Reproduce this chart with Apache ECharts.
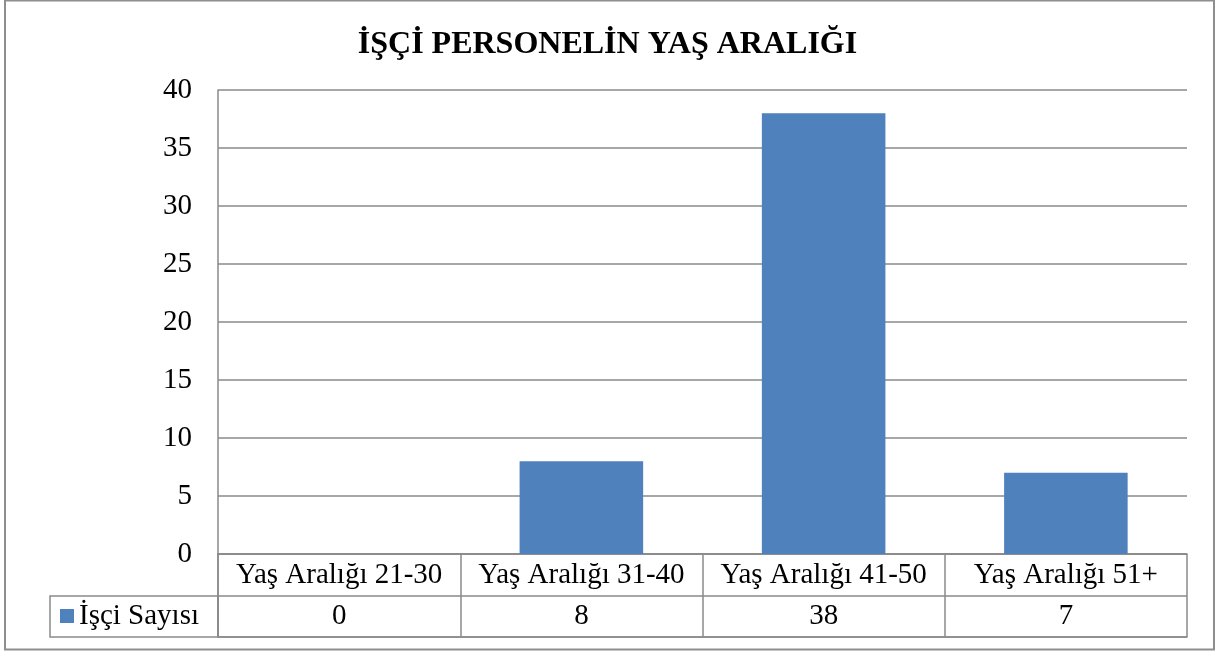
<!DOCTYPE html>
<html>
<head>
<meta charset="utf-8">
<script src="https://cdn.jsdelivr.net/npm/echarts@6/dist/echarts.min.js"></script>
<style>
html, body { margin: 0; padding: 0; background: #fff; }
#chart { width: 1215px; height: 653px; }
</style>
</head>
<body>
<div id="chart"></div>
<script>
"use strict";

var titleText = 'İŞÇİ PERSONELİN YAŞ ARALIĞI';
var seriesName = 'İşçi Sayısı';
var categories = ['Yaş Aralığı 21-30', 'Yaş Aralığı 31-40', 'Yaş Aralığı 41-50', 'Yaş Aralığı 51+'];
var values = [0, 8, 38, 7];

var lineColor = '#8a8a8a';
var serif = '"Liberation Serif", "Times New Roman", serif';

var chart = echarts.init(document.getElementById('chart'));
var option = {
	animation: false,
	title: {
		text: titleText,
		left: 'center',
		top: 24,
		textStyle: { fontFamily: serif, fontWeight: 'bold', fontSize: 32, color: '#000' }
	},
	legend: {
		data: [seriesName],
		left: 60,
		top: 601,
		padding: 0,
		icon: 'rect',
		itemWidth: 14,
		itemHeight: 14,
		itemGap: 8,
		textStyle: { fontFamily: serif, fontSize: 29, color: '#000', lineHeight: 30 }
	},
	grid: [
		{ left: 218, right: 28, top: 90, bottom: 99 },
		{ left: 218, right: 28, top: 554, bottom: 16 }
	],
	xAxis: [{
		type: 'category',
		gridIndex: 0,
		data: categories,
		axisLine: { lineStyle: { color: lineColor, width: 1.5 } },
		axisTick: { show: false },
		axisLabel: { fontFamily: serif, fontSize: 29, lineHeight: 30, color: '#000', margin: 6, interval: 0 }
	}, {
		type: 'category',
		gridIndex: 1,
		data: categories,
		axisLine: { lineStyle: { color: lineColor, width: 1.5 } },
		axisTick: { show: false },
		axisLabel: { show: false },
		splitLine: { show: true, lineStyle: { color: lineColor, width: 1.5 } }
	}],
	yAxis: [{
		type: 'value',
		gridIndex: 0,
		min: 0,
		max: 40,
		interval: 5,
		axisLine: { show: true, lineStyle: { color: lineColor, width: 1.5 } },
		axisTick: { show: false },
		axisLabel: { fontFamily: serif, fontSize: 29, color: '#000', margin: 26 },
		splitLine: { lineStyle: { color: lineColor, width: 1.5 } }
	}, {
		type: 'value',
		gridIndex: 1,
		min: 0,
		max: 2,
		interval: 1,
		axisLine: { show: true, lineStyle: { color: lineColor, width: 1.5 } },
		axisTick: { show: false },
		axisLabel: { show: false },
		splitLine: { lineStyle: { color: lineColor, width: 1.5 } }
	}],
	series: [{
		name: seriesName,
		type: 'bar',
		xAxisIndex: 0,
		yAxisIndex: 0,
		data: values,
		barWidth: '51%',
		itemStyle: { color: '#4f81bd' }
	}, {
		name: 'table',
		type: 'scatter',
		xAxisIndex: 1,
		yAxisIndex: 1,
		symbolSize: 0,
		itemStyle: { opacity: 1 },
		data: values.map(function (v, i) { return [categories[i], 0.5, v]; }),
		label: {
			show: true,
			position: 'inside',
			formatter: function (p) { return p.data[2]; },
			fontFamily: serif,
			fontSize: 29,
			color: '#000',
			opacity: 1
		}
	}],
	graphic: [{
		type: 'rect',
		shape: { x: 50, y: 596, width: 168, height: 41 },
		style: { fill: 'none', stroke: lineColor, lineWidth: 1.5 },
		silent: true
	}, {
		type: 'rect',
		shape: { x: 5, y: 0.5, width: 1209, height: 649 },
		style: { fill: 'none', stroke: '#8e8e8e', lineWidth: 2 },
		silent: true
	}]
};
chart.setOption(option);
window.addEventListener('resize', function () {
	chart.resize();
});
</script>
</body>
</html>
